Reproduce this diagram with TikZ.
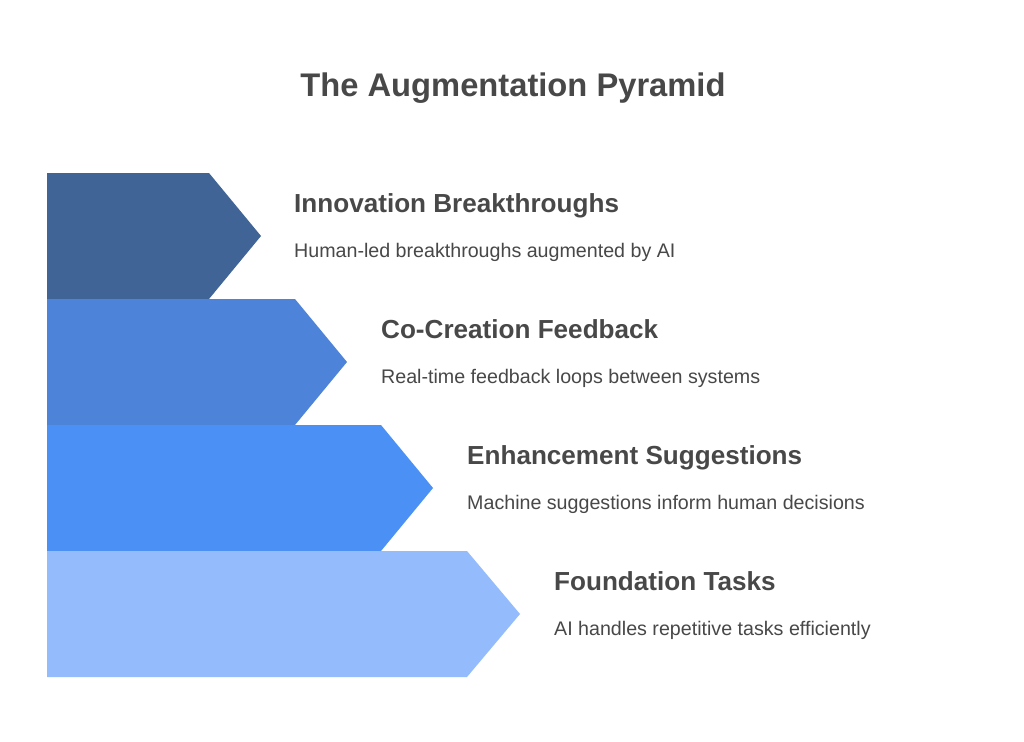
\documentclass[tikz,border=0pt]{standalone}
\usepackage{fontspec}
\setmainfont{Liberation Sans}
\definecolor{txt}{HTML}{484848}
\definecolor{cA}{HTML}{406496}
\definecolor{cB}{HTML}{4E83DA}
\definecolor{cC}{HTML}{4A90F5}
\definecolor{cD}{HTML}{94BCFC}
\tikzset{
  head/.style={anchor=base west, inner sep=0pt, text=txt, font=\fontsize{26.1}{30}\selectfont\bfseries},
  desc/.style={anchor=base west, inner sep=0pt, text=txt, font=\fontsize{19.65}{24}\selectfont},
  ttl/.style={anchor=base, inner sep=0pt, text=txt, font=\fontsize{32.7}{38}\selectfont\bfseries},
}
\begin{document}
\begin{tikzpicture}[x=1pt,y=-1pt]
\useasboundingbox[fill=white] (0,0) rectangle (1024,741);
\node[ttl] (title) at (513,97) {The Augmentation Pyramid};
% arrows
\fill[cA] (47,173) -- (209,173) -- (261,236) -- (209,299) -- (47,299) -- cycle;
\fill[cB] (47,299) -- (295,299) -- (347,362) -- (295,425) -- (47,425) -- cycle;
\fill[cC] (47,425) -- (381,425) -- (433,488) -- (381,551) -- (47,551) -- cycle;
\fill[cD] (47,551) -- (467,551) -- (520,614) -- (467,677) -- (47,677) -- cycle;
% texts
\node[head] (h1) at (294,212.5) {Innovation Breakthroughs};
\node[desc] (d1) at (294,257.5) {Human-led breakthroughs augmented by AI};
\node[head] (h2) at (381,338.5) {Co-Creation Feedback};
\node[desc] (d2) at (381,383.5) {Real-time feedback loops between systems};
\node[head] (h3) at (467,464.5) {Enhancement Suggestions};
\node[desc] (d3) at (467,509.5) {Machine suggestions inform human decisions};
\node[head] (h4) at (554,590.5) {Foundation Tasks};
\node[desc] (d4) at (554,635.5) {AI handles repetitive tasks efficiently};
\end{tikzpicture}
\end{document}
